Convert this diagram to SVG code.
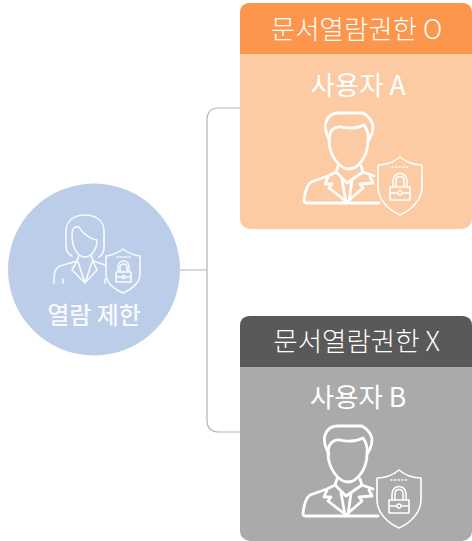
<svg xmlns="http://www.w3.org/2000/svg" width="472" height="541" viewBox="0 0 472 541">
<style>
text{font-family:"Noto Sans CJK KR","Noto Sans",sans-serif;fill:#fff;text-anchor:middle}
.h{font-size:26.5px;font-weight:300}
.s{font-size:26.5px;font-weight:400}
.i{fill:none;stroke:#fff;stroke-linecap:round;stroke-linejoin:round;stroke-width:2.8}
.t{fill:none;stroke:#fff;stroke-linecap:round;stroke-linejoin:round;stroke-width:1.6}
.w{fill:none;stroke:#f7f9fd;stroke-linecap:round;stroke-linejoin:round;stroke-width:1.6}
.c{fill:none;stroke:#b3b3b3;stroke-width:1.2}
</style>
<defs>
<g id="man">
<path class="i" d="M330 141C326 134 324 128 326 122C328 116 333 113 339 113L363 113C368 116 372 120 373 126C373 132 371 137 368 141"/>
<path class="i" d="M329 140C329 130 335 126 341 127C349 129 358 128 364 125C367 129 369 134 368 141C368 156 358 169 349 169C340 169 329 156 329 140Z"/>
<path class="i" d="M338 166L336 172L328 176L311 182C307 185 305 190 304 201C304 203 305 203 307 203L379 203M361 166L363 172L374 176"/>
<path class="i" d="M328 177L325 184L332 184L329 188L347 202L363 188L360 184L373 183L370 177M336 172L347 183L363 172M342 180L346 202M352 180L349 202"/>
<path class="t" d="M400 157C394 162 386 165 378 165L378 187C378 200 389 210 400 215C411 210 422 200 422 187L422 165C414 165 406 162 400 157Z"/>
<path class="t" d="M390 187H410V200H390ZM393 187V181C393 171 407 171 407 181V187M396 187V181C396 175 404 175 404 181V187M390 193H397M403 193H410"/>
<circle class="t" cx="400" cy="193" r="2"/>
<path class="t" stroke-dasharray="1 2.6" d="M392 167H409"/>
</g>
</defs>
<g id="connectors">
<path class="c" d="M180 270H207M240 108H219Q207 108 207 120V420Q207 432 219 432H240"/>
</g>
<g id="node-restrict">
<circle cx="94" cy="269.500" r="86" fill="#bccde9"/>
<path class="w" d="M72 256C68 254 66 251 66 246V231C66 221 74 215 85 215C96 215 104 221 104 231V248C104 252 102 255 99 257"/>
<path class="w" d="M72 235C72 228 75 226 79 227C82 233 90 239 97 240C97 249 92 257 85 257C78 257 72 248 72 235Z"/>
<path class="w" d="M79 255L77 261L60 266C55 268 54 272 54 283M91 255L93 261L105 265M63 279V283M105 279V283"/>
<path class="w" d="M77 261L72 270L85 283L97 270L93 261M78 262L85 283M92 262L85 283"/>
<path class="w" d="M123 249C118 253 112 255 106 256V274C106 283 114 289 123 293C132 289 140 283 140 274V256C134 255 128 253 123 249Z"/>
<path class="w" d="M116 272H131V282H116ZM118 272V267C118 259 129 259 129 267V272M120 272V267C120 263 127 263 127 267V272M116 277H121M126 277H131"/>
<circle class="w" cx="123.500" cy="277" r="1.500"/>
<path class="w" stroke-dasharray="1 2" d="M117 257H130"/>
<text x="94" y="324" font-size="24" font-weight="500" style="fill:#f7f9fd">열람 제한</text>
</g>
<g id="node-user-a">
<rect x="240" y="3" width="232" height="226" rx="10" fill="#fccba4"/>
<path d="M240 54V13Q240 3 250 3H462Q472 3 472 13V54Z" fill="#fd964d"/>
<text class="h" x="356.500" y="39">문서열람권한 O</text>
<text class="s" x="358" y="95">사용자 A</text>
<use href="#man"/>
</g>
<g id="node-user-b">
<rect x="240" y="316" width="232" height="225" rx="10" fill="#aaaaaa"/>
<path d="M240 367V326Q240 316 250 316H462Q472 316 472 326V367Z" fill="#595959"/>
<text class="h" x="356.500" y="351">문서열람권한 X</text>
<text class="s" x="358" y="407">사용자 B</text>
<use href="#man" transform="translate(-1 313)"/>
</g>
</svg>
